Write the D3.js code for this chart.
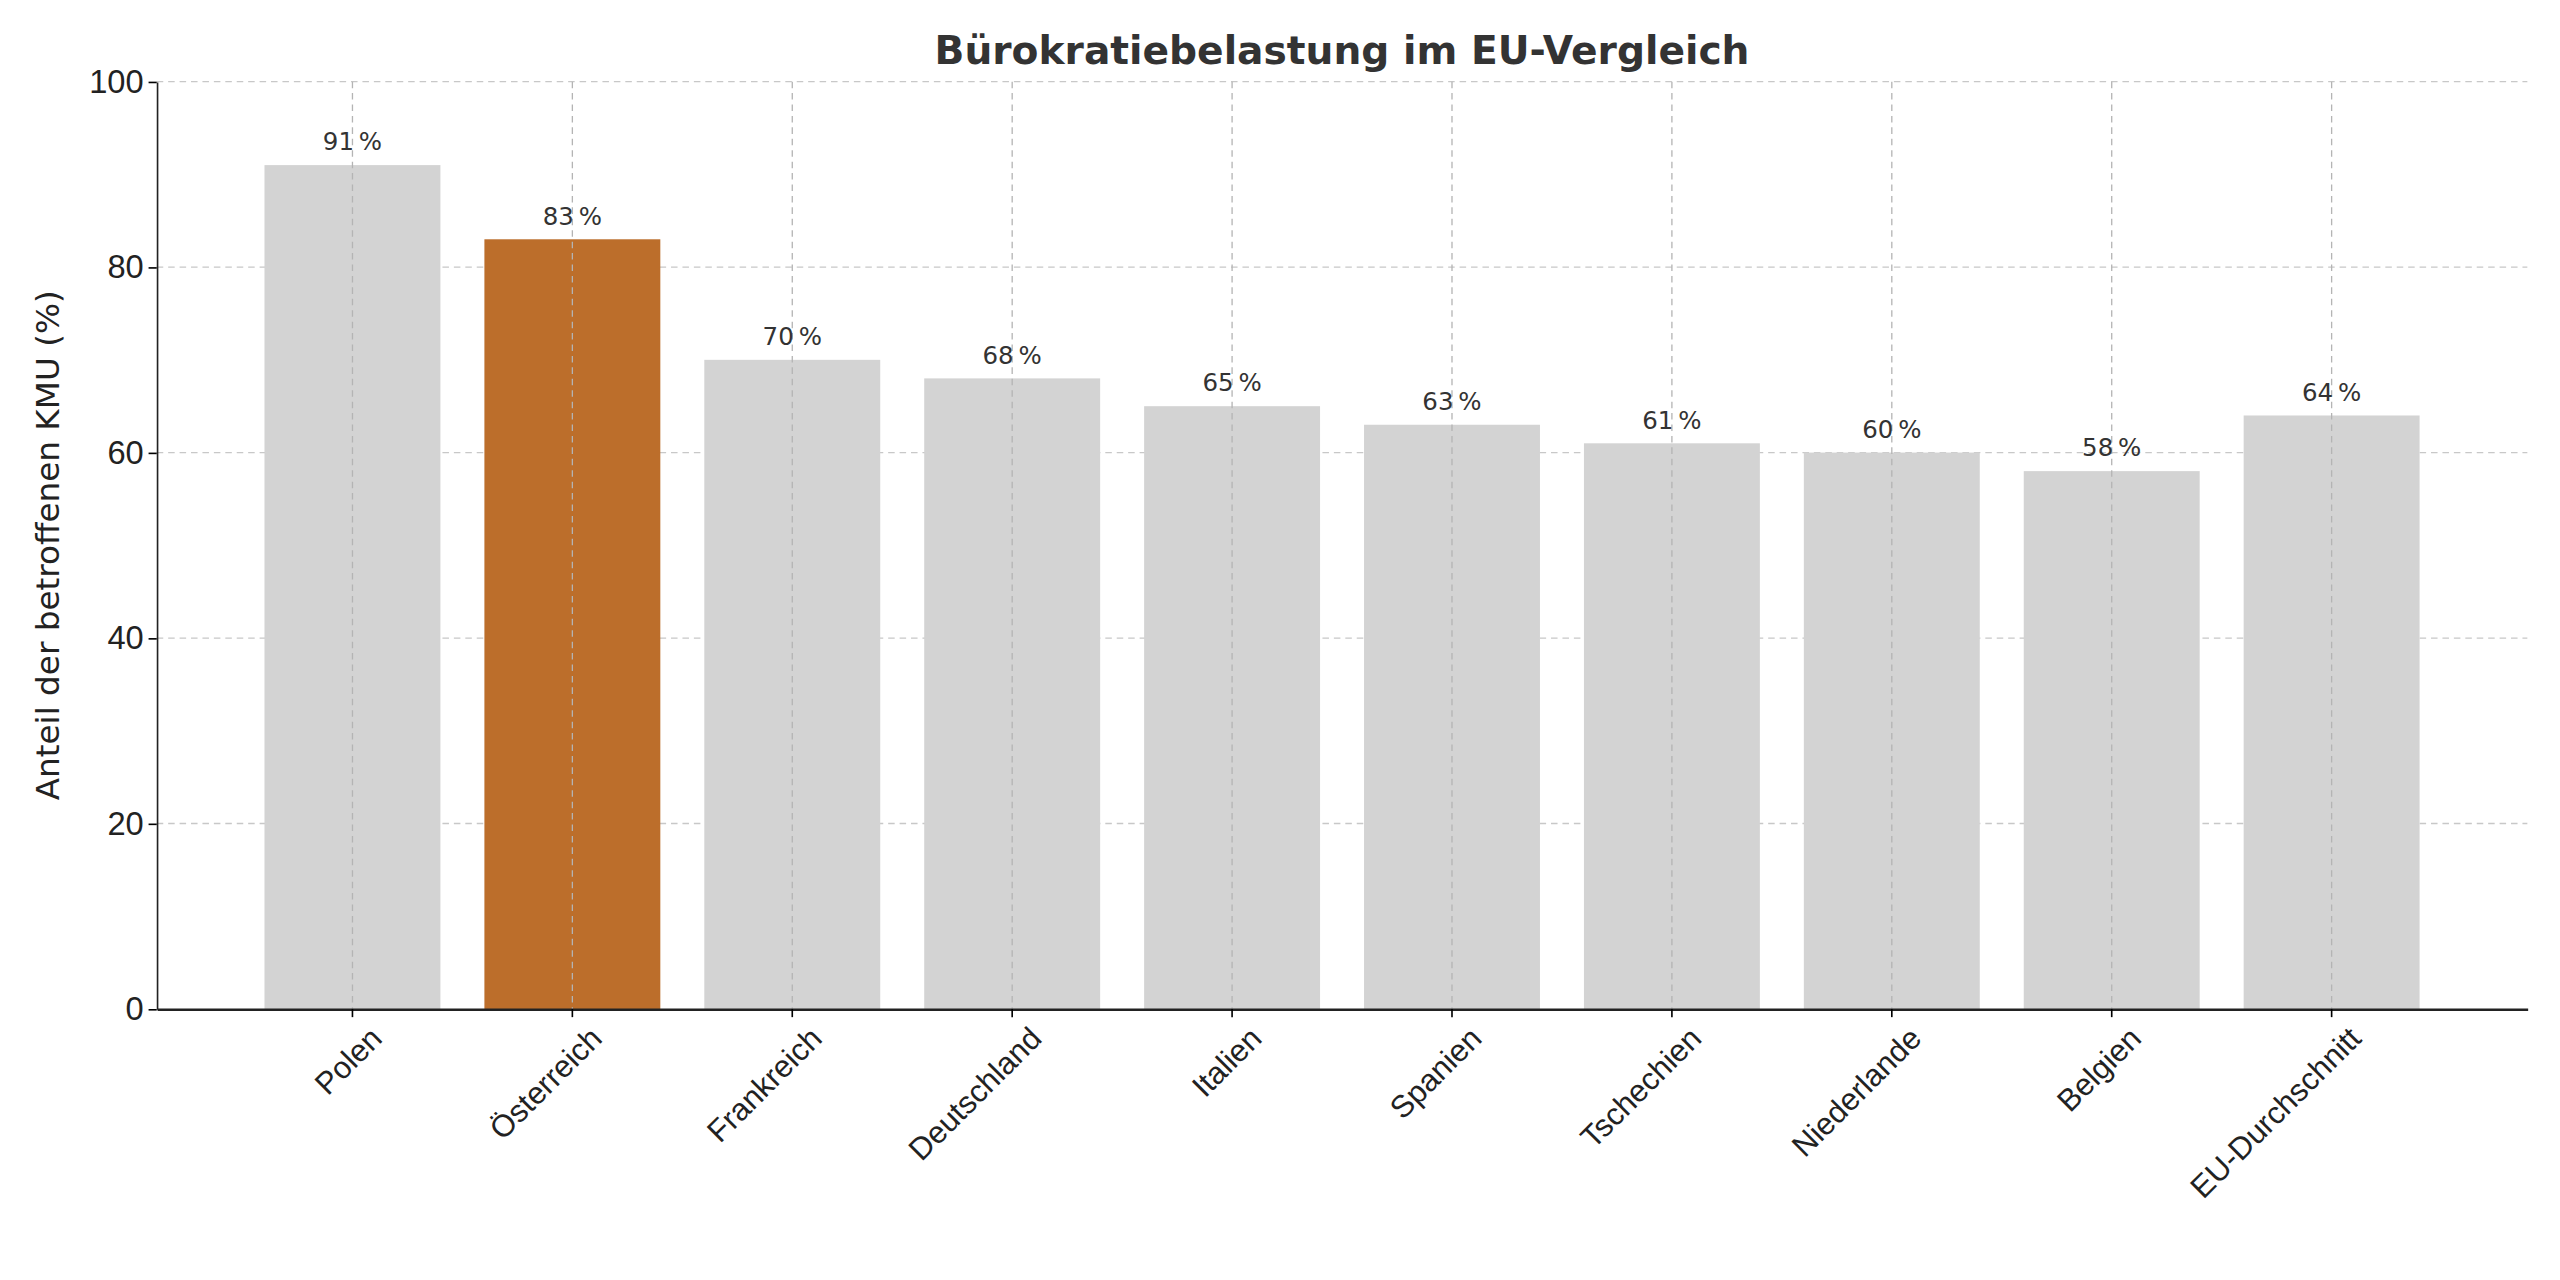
<!DOCTYPE html>
<html><head><meta charset="utf-8">
<script src="https://cdn.jsdelivr.net/npm/d3@7"></script>
<style>body{margin:0;background:#fff}</style>
</head><body>
<svg id="chart"></svg>
<script>
const countries = ['Polen', 'Österreich', 'Frankreich', 'Deutschland', 'Italien', 'Spanien', 'Tschechien', 'Niederlande', 'Belgien', 'EU-Durchschnitt'];
const shares = [91, 83, 70, 68, 65, 63, 61, 60, 58, 64];
const yTicks = [0, 20, 40, 60, 80, 100];
const highlight = 'Österreich';

// drawn in 1568x784 units, scaled up to window
const W = 1568, H = 784;
const margin = { top: 50, right: 20, bottom: 166, left: 96 };

const svg = d3.select('#chart')
  .attr('width', 2560).attr('height', 1280)
  .attr('viewBox', `0 0 ${W} ${H}`)
  .style('font-family', 'DejaVu Sans');

const x = d3.scaleBand()
  .domain(countries)
  .range([margin.left, W - margin.right])
  .paddingInner(0.2)
  .paddingOuter(0.49);

const y = d3.scaleLinear()
  .domain([0, 100])
  .range([H - margin.bottom, margin.top]);

// grid
svg.append('g').selectAll('line.gy').data(yTicks.slice(1)).enter().append('line')
  .attr('x1', margin.left).attr('x2', W - margin.right)
  .attr('y1', d => y(d)).attr('y2', d => y(d))
  .attr('stroke', '#c8c8c8').attr('stroke-dasharray', '4,3').attr('stroke-width', 0.8);

svg.append('g').selectAll('rect').data(countries).enter().append('rect')
  .attr('x', d => x(d))
  .attr('width', x.bandwidth())
  .attr('y', (d, i) => y(shares[i]))
  .attr('height', (d, i) => y(0) - y(shares[i]))
  .attr('fill', d => d === highlight ? '#bc6e2b' : '#d3d3d3');

svg.append('g').selectAll('line.gx').data(countries).enter().append('line')
  .attr('x1', d => x(d) + x.bandwidth() / 2).attr('x2', d => x(d) + x.bandwidth() / 2)
  .attr('y1', margin.top).attr('y2', y(0))
  .attr('stroke', '#b4b4b4').attr('stroke-dasharray', '4,3').attr('stroke-width', 0.8);

// value labels
svg.append('g').selectAll('text').data(countries).enter().append('text')
  .attr('x', d => x(d) + x.bandwidth() / 2)
  .attr('y', (d, i) => y(shares[i]) - 9)
  .attr('text-anchor', 'middle')
  .attr('font-size', 15).attr('fill', '#333')
  .text((d, i) => shares[i] + '\u2009%');

// axes
const xAxis = svg.append('g')
  .attr('transform', `translate(0,${y(0)})`)
  .call(d3.axisBottom(x).tickSize(5).tickSizeOuter(0));
xAxis.select('.domain').attr('stroke', '#222').attr('stroke-width', 1.5);
xAxis.selectAll('text')
  .attr('font-size', 19).attr('fill', '#222')
  .attr('text-anchor', 'end')
  .attr('transform', 'translate(4,4) rotate(-45)');

const yAxis = svg.append('g')
  .attr('transform', `translate(${margin.left},0)`)
  .call(d3.axisLeft(y).tickValues(yTicks).tickSize(5).tickSizeOuter(0));
yAxis.select('.domain').attr('stroke', '#222');
yAxis.selectAll('text').attr('font-size', 20).attr('fill', '#222');

svg.append('text')
  .attr('transform', `translate(36,${(margin.top + y(0)) / 2}) rotate(-90)`)
  .attr('text-anchor', 'middle')
  .attr('font-size', 20).attr('fill', '#222')
  .text('Anteil der betroffenen KMU (%)');

svg.append('text')
  .attr('x', (margin.left + W - margin.right) / 2)
  .attr('y', 39)
  .attr('text-anchor', 'middle')
  .attr('font-size', 24).attr('font-weight', 'bold').attr('fill', '#333')
  .text('Bürokratiebelastung im EU-Vergleich');
</script>
</body></html>
